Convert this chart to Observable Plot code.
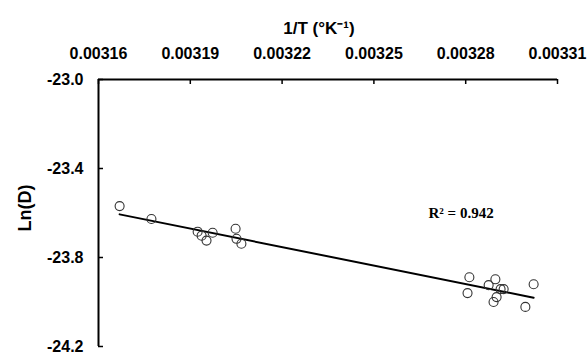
<!DOCTYPE html>
<html>
<head>
<meta charset="utf-8">
<script src="https://cdn.jsdelivr.net/npm/d3@7"></script>
<script src="https://cdn.jsdelivr.net/npm/@observablehq/plot@0.6"></script>
<style>
  html, body { margin: 0; padding: 0; background: #fff; }
</style>
</head>
<body>
<div id="chart"></div>
<script>
// Data
const invT = [0.0031669, 0.0031773, 0.0031924, 0.0031937, 0.0031953, 0.0031973, 0.0032048, 0.0032051, 0.0032067,
              0.0032812, 0.0032806, 0.0032897, 0.0032875, 0.0032914, 0.0032924, 0.0032901, 0.0032891, 0.0033022, 0.0032995];
const lnD  = [-23.569, -23.627, -23.684, -23.702, -23.724, -23.689, -23.671, -23.716, -23.738,
              -23.889, -23.960, -23.898, -23.924, -23.942, -23.942, -23.978, -24.000, -23.920, -24.022];
const xTicks = [0.00316, 0.00319, 0.00322, 0.00325, 0.00328, 0.00331];
const yTicks = [-23.0, -23.4, -23.8, -24.2];
const xTitle = "1/T (°K⁻¹)";
const yTitle = "Ln(D)";
const r2Label = "R² = 0.942";

const pts = invT.map((x, i) => ({x, y: lnD[i]}));

const W = 587, H = 355, mL = 98, mR = 30, mT = 79, mB = 9;
const frameW = W - mL - mR, frameH = H - mT - mB;

const chart = Plot.plot({
  width: W, height: H,
  marginLeft: mL, marginRight: mR, marginTop: mT, marginBottom: mB,
  style: {fontFamily: "'Liberation Sans', Arial, sans-serif", fontWeight: "bold", fontSize: "16px", color: "#000", background: "#fff"},
  x: {domain: [xTicks[0], xTicks[xTicks.length - 1]]},
  y: {domain: [yTicks[yTicks.length - 1], yTicks[0]]},
  marks: [
    Plot.axisX(xTicks, {anchor: "top", tickSize: 0, tickPadding: 21, tickFormat: d => d.toFixed(5), label: null, fontSize: 16, fontWeight: "bold"}),
    Plot.axisY(yTicks, {anchor: "left", tickSize: 0, tickPadding: 15, tickFormat: d => d.toFixed(1), label: null, fontSize: 16, fontWeight: "bold"}),
    Plot.ruleY([yTicks[0]], {stroke: "#000", strokeWidth: 2}),
    Plot.ruleX([xTicks[0]], {stroke: "#000", strokeWidth: 2}),
    Plot.tickX(xTicks, {insetBottom: frameH - 5, stroke: "#000", strokeWidth: 1.5}),
    Plot.tickY(yTicks, {insetRight: frameW - 5, stroke: "#000", strokeWidth: 1.5}),
    Plot.linearRegressionY(pts, {x: "x", y: "y", ci: 0, stroke: "#000", strokeWidth: 2}),
    Plot.dot(pts, {x: "x", y: "y", r: 4.5, stroke: "#333", fill: "none", strokeWidth: 1.1}),
    Plot.text([xTitle], {frameAnchor: "top", dx: -9, dy: -51, fontSize: 17, fontWeight: "bold", textAnchor: "middle", lineAnchor: "middle"}),
    Plot.text([yTitle], {frameAnchor: "left", dx: -73, dy: -5, rotate: -90, fontSize: 18, fontWeight: "bold", textAnchor: "middle", lineAnchor: "middle"}),
    Plot.text([r2Label], {frameAnchor: "top-left", dx: 330, dy: 134, fontFamily: "'Liberation Serif', 'Times New Roman', serif", fontSize: 15, fontWeight: "bold", textAnchor: "start", lineAnchor: "middle"})
  ]
});
document.getElementById("chart").appendChild(chart);
</script>
</body>
</html>
